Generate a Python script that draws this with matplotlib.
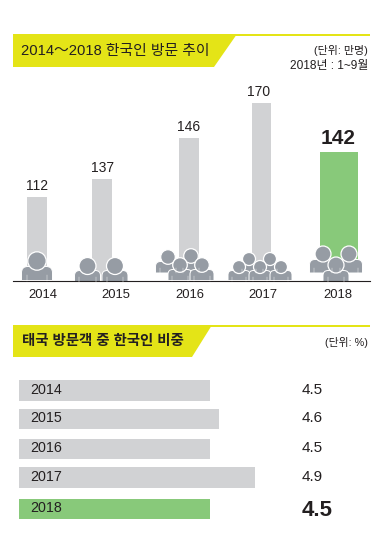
import matplotlib
matplotlib.use("Agg")
import matplotlib.pyplot as plt
import numpy as np
from matplotlib.patches import Circle, PathPatch, Polygon, Rectangle
from matplotlib.path import Path

plt.rcParams["font.family"] = ["Liberation Sans", "Noto Sans CJK KR", "DejaVu Sans"]

years = ["2014", "2015", "2016", "2017", "2018"]
visitors = [112, 137, 146, 170, 142]
share = [4.5, 4.6, 4.5, 4.9, 4.5]

title_top = "2014～2018 한국인 방문 추이"
title_bottom = "태국 방문객 중 한국인 비중"
unit_top = "(단위: 만명)"
note_top = "2018년 : 1~9월"
unit_bottom = "(단위: %)"

W, H = 392, 544
YELLOW = "#e4e417"
GRAY = "#d1d2d4"
GREEN = "#88c97a"
ICON = "#969ca4"
INK = "#231f20"

# the source graphic is not drawn to a linear scale, so calibrate against it
top_vals = [0, 112, 137, 142, 146, 170, 190]
top_px = [0, 84, 102, 129, 143, 178, 200]
bot_vals = [0, 4.5, 4.6, 4.9, 8]
bot_px = [0, 191, 200, 236, 373]


def scale_funcs(vals, px):
    return (lambda v: np.interp(v, vals, px), lambda p: np.interp(p, px, vals))


def person(ax, cx, head_y, r, body_w, body_top, bottom):
    # white outline eats into the fill, so grow the shapes a little
    r += 0.5
    body_w += 1
    body_top -= 0.5
    x0, x1 = cx - body_w / 2, cx + body_w / 2
    c = body_w * 0.2
    verts = [(x0, bottom), (x0, body_top + c), (x0, body_top), (x0 + c, body_top),
             (x1 - c, body_top), (x1, body_top), (x1, body_top + c), (x1, bottom), (x0, bottom)]
    codes = [Path.MOVETO, Path.LINETO, Path.CURVE3, Path.CURVE3,
             Path.LINETO, Path.CURVE3, Path.CURVE3, Path.LINETO, Path.CLOSEPOLY]
    ax.add_patch(PathPatch(Path(verts, codes), fc=ICON, ec="white", lw=0.7))
    ax.add_patch(Circle((cx, head_y), r, fc=ICON, ec="white", lw=0.9))
    # arm slits
    for sx in (x0 + body_w * 0.18, x1 - body_w * 0.18):
        ax.plot([sx, sx], [body_top + (bottom - body_top) * 0.6, bottom], color="white", lw=0.3)


def banner(ax, y0, y1, x_top, x_bot):
    ax.add_patch(Polygon([(13, y0), (x_top, y0), (x_bot, y1), (13, y1)], fc=YELLOW, ec="none"))
    ax.add_patch(Polygon([(13, y0), (370, y0), (370, y0 + 2), (13, y0 + 2)], fc=YELLOW, ec="none"))


fig = plt.figure(figsize=(W / 100, H / 100), dpi=100)

# top bars
ax_top = fig.add_axes([0, (H - 281) / H, 1, 200 / H])
ax_top.set_yscale("function", functions=scale_funcs(top_vals, top_px))
ax_top.set_xlim(0, W)
ax_top.set_ylim(0, 190)
ax_top.axis("off")
centers = [37, 102, 189, 261.5, 339]
widths = [20, 20, 20, 19, 38]
colors = [GRAY, GRAY, GRAY, GRAY, GREEN]
ax_top.bar(centers, visitors, width=widths, color=colors)

# bottom bars
ax_bot = fig.add_axes([19 / W, 0, (W - 19) / W, 1])
ax_bot.set_xscale("function", functions=scale_funcs(bot_vals, bot_px))
ax_bot.set_xlim(0, 8)
ax_bot.set_ylim(H, 0)
ax_bot.axis("off")
rows = [390.5, 419, 449, 477.5, 509]
ax_bot.barh(rows, share, height=20.5, color=colors)

# overlay in pixel coordinates
ov = fig.add_axes([0, 0, 1, 1])
ov.set_xlim(0, W)
ov.set_ylim(H, 0)
ov.axis("off")
ov.patch.set_alpha(0)

banner(ov, 34, 67, 237, 214)
banner(ov, 325, 357, 212, 192)
ov.text(21, 50.5, title_top, fontsize=10.65, color=INK, va="center")
ov.text(22, 341, title_bottom, fontsize=10.4, color=INK, va="center", fontweight="bold")
ov.text(368, 50, unit_top, fontsize=7.9, color=INK, va="center", ha="right")
ov.text(368, 65.5, note_top, fontsize=8.6, color=INK, va="center", ha="right")
ov.text(368, 342, unit_bottom, fontsize=7.8, color=INK, va="center", ha="right")

# green bar stops behind the back row of the 2018 icons
ov.add_patch(Rectangle((318, 272), 42, 9, fc="white", ec="none"))
ov.plot([13, 370], [281, 281], color=INK, lw=0.8)

value_x = [37, 103, 189, 259, 338]
year_x = [43, 116, 190, 263, 338]
for vx, yx, year, val in zip(value_x, year_x, years, visitors):
    if year == "2018":
        ax_top.annotate(str(val), (vx, val), xytext=(0, 14), textcoords="offset pixels", ha="center",
                        va="center", fontsize=15, fontweight="bold", color=INK)
    else:
        ax_top.annotate(str(val), (vx, val), xytext=(0, 11), textcoords="offset pixels", ha="center",
                        va="center", fontsize=10, color=INK)
    ov.text(yx, 295, year, ha="center", va="center", fontsize=9.4, color=INK)

# people icons, back row first
person(ov, 37, 261, 8.7, 30, 267, 280.5)
person(ov, 87.5, 266, 8, 25, 271, 282)
person(ov, 115, 266, 8, 25, 271, 282)

person(ov, 168, 257, 6.8, 24, 262, 273)
person(ov, 191, 256, 6.8, 24, 262, 273)
person(ov, 180, 265, 6.8, 23, 270, 280.5)
person(ov, 202, 265, 6.8, 23, 270, 280.5)

person(ov, 249, 259, 6, 21, 264, 273)
person(ov, 270, 259, 6, 21, 264, 273)
person(ov, 239, 267, 6, 21, 271, 280.5)
person(ov, 260, 267, 6, 21, 271, 280.5)
person(ov, 281, 267, 6, 21, 271, 280.5)

person(ov, 323, 254, 7.5, 26, 260, 273)
person(ov, 349, 254, 7.5, 26, 260, 273)
person(ov, 336, 265, 7.5, 25, 271, 282)

# bottom chart labels
for y, year, val in zip(rows, years, share):
    ov.text(30, y - 0.5, year, fontsize=10.3, color=INK, va="center")
    if year == "2018":
        ov.text(302, y + 1.5, f"{val:.1f}", fontsize=16, fontweight="bold", color=INK, va="center")
    else:
        ov.text(302, y - 0.5, f"{val:.1f}", fontsize=11, color=INK, va="center")

fig.savefig("out.png", dpi=100, facecolor="white")
plt.close(fig)
